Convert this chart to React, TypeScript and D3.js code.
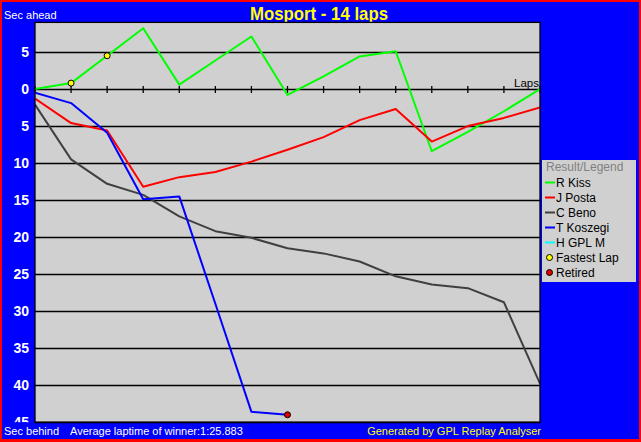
import React from "react";
import * as d3 from "d3";

const laps = d3.range(0, 15);
const yTicks = [5, 0, -5, -10, -15, -20, -25, -30, -35, -40, -45];

const kiss = [0, 0.8, 4.5, 8.2, 0.6, 3.85, 7.1, -0.8, 1.7, 4.4, 5.1, -8.4, -5.8, -3.0, 0];
const posta = [-1.3, -4.6, -5.6, -13.2, -11.9, -11.2, -9.8, -8.2, -6.5, -4.2, -2.7, -7.1, -5.0, -3.9, -2.5];
const beno = [-2.1, -9.5, -12.8, -14.3, -17.2, -19.2, -20.1, -21.5, -22.2, -23.3, -25.3, -26.4, -26.9, -28.8, -39.8];
const koszegi = [-0.5, -1.9, -5.9, -14.9, -14.5, -29.0, -43.6, -44.0];
const gplm: number[] = [];

const fastestLaps = [1, 2]; // laps (on R Kiss) where the fastest lap was set
const retired = [{ lap: 7, value: -44.0 }];

const series = [
  { name: "R Kiss", color: "#00ff00", values: kiss },
  { name: "J Posta", color: "#ff0000", values: posta },
  { name: "C Beno", color: "#404040", values: beno },
  { name: "T Koszegi", color: "#0000ff", values: koszegi },
  { name: "H GPL M", color: "#00ffff", values: gplm },
];

const W = 641;
const H = 442;
const PL = 35;
const PR = 540;
const PT = 22.4;
const PB = 422.2;

export default function App() {
  const x = d3.scaleLinear().domain([0, 14]).range([PL, PR]);
  const y = d3.scaleLinear().domain([9, -45]).range([PT, PB]);
  const line = d3
    .line<number>()
    .x((_, i) => x(i))
    .y((d) => y(d));
  const font = "'Liberation Sans', Arial, sans-serif";
  const legendRows = 15;
  const lx = 542;
  const ly = 160;

  return (
    <svg
      width={W}
      height={H}
      style={{ position: "fixed", left: 0, top: 0, display: "block" }}
      fontFamily={font}
    >
      <rect x={0} y={0} width={W} height={H} fill="#ff0000" />
      <rect x={2} y={2} width={637} height={437} fill="#0000ff" />
      <text
        x={319}
        y={19.5}
        textAnchor="middle"
        fill="#ffff00"
        fontWeight="bold"
        fontSize={19}
        textLength={138}
        lengthAdjust="spacingAndGlyphs"
      >
        Mosport - 14 laps
      </text>
      <text x={4} y={19.3} fill="#ffffff" fontSize={11}>
        Sec ahead
      </text>

      <clipPath id="plotclip">
        <rect x={PL} y={PT} width={PR - PL} height={PB - PT} />
      </clipPath>
      <clipPath id="labelclip">
        <rect x={0} y={0} width={PL} height={PB} />
      </clipPath>
      <rect x={PL} y={PT} width={PR - PL} height={PB - PT} fill="#d0d0d0" />
      {yTicks.map((t) => (
        <line
          key={t}
          x1={PL}
          x2={PR}
          y1={Math.round(y(t)) + 0.5}
          y2={Math.round(y(t)) + 0.5}
          stroke="#000"
          strokeWidth={1.3}
        />
      ))}
      <g clipPath="url(#labelclip)">
        {yTicks.map((t) => (
          <text
            key={t}
            x={29}
            y={y(t) + 5}
            textAnchor="end"
            fill="#ffffff"
            fontWeight="bold"
            fontSize={14}
          >
            {Math.abs(t)}
          </text>
        ))}
      </g>
      {laps.map((l) => (
        <line
          key={l}
          x1={x(l)}
          x2={x(l)}
          y1={y(0) - 3}
          y2={y(0) + 4}
          stroke="#000"
          strokeWidth={1.3}
        />
      ))}
      <text x={539} y={86.5} textAnchor="end" fill="#000" fontSize={11.5}>
        Laps
      </text>
      <g clipPath="url(#plotclip)">
        {series.map((s) =>
          s.values.length ? (
            <path
              key={s.name}
              d={line(s.values) || ""}
              fill="none"
              stroke={s.color}
              strokeWidth={2}
              strokeLinejoin="round"
            />
          ) : null
        )}
      </g>
      {fastestLaps.map((l) => (
        <circle
          key={l}
          cx={x(l)}
          cy={y(kiss[l])}
          r={3}
          fill="#ffff00"
          stroke="#000"
          strokeWidth={1}
        />
      ))}
      {retired.map((r) => (
        <circle
          key={r.lap}
          cx={x(r.lap)}
          cy={y(r.value)}
          r={3}
          fill="#e00000"
          stroke="#000"
          strokeWidth={1}
        />
      ))}
      <rect
        x={PL}
        y={PT}
        width={PR - PL}
        height={PB - PT}
        fill="none"
        stroke="#000"
        strokeWidth={1.3}
      />

      <text x={4} y={435} fill="#ffffff" fontSize={11}>
        Sec behind
      </text>
      <text x={70} y={435} fill="#ffffff" fontSize={11}>
        Average laptime of winner:1:25.883
      </text>
      <text x={541} y={435} textAnchor="end" fill="#ffff00" fontSize={11}>
        Generated by GPL Replay Analyser
      </text>

      <g>
        <rect x={lx} y={ly} width={94} height={122} fill="#d0d0d0" />
        <text x={lx + 4} y={ly + 11} fill="#808080" fontSize={12}>
          Result/Legend
        </text>
        {series.map((s, i) => (
          <g key={s.name}>
            <line
              x1={lx + 3}
              x2={lx + 13}
              y1={ly + 22.5 + i * legendRows}
              y2={ly + 22.5 + i * legendRows}
              stroke={s.color}
              strokeWidth={2}
            />
            <text x={lx + 14} y={ly + 27 + i * legendRows} fill="#000" fontSize={12}>
              {s.name}
            </text>
          </g>
        ))}
        <circle cx={lx + 7.5} cy={ly + 22.5 + 5 * legendRows} r={3} fill="#ffff00" stroke="#000" />
        <text x={lx + 14} y={ly + 27 + 5 * legendRows} fill="#000" fontSize={12}>
          Fastest Lap
        </text>
        <circle cx={lx + 7.5} cy={ly + 22.5 + 6 * legendRows} r={3} fill="#e00000" stroke="#000" />
        <text x={lx + 14} y={ly + 27 + 6 * legendRows} fill="#000" fontSize={12}>
          Retired
        </text>
      </g>
    </svg>
  );
}
